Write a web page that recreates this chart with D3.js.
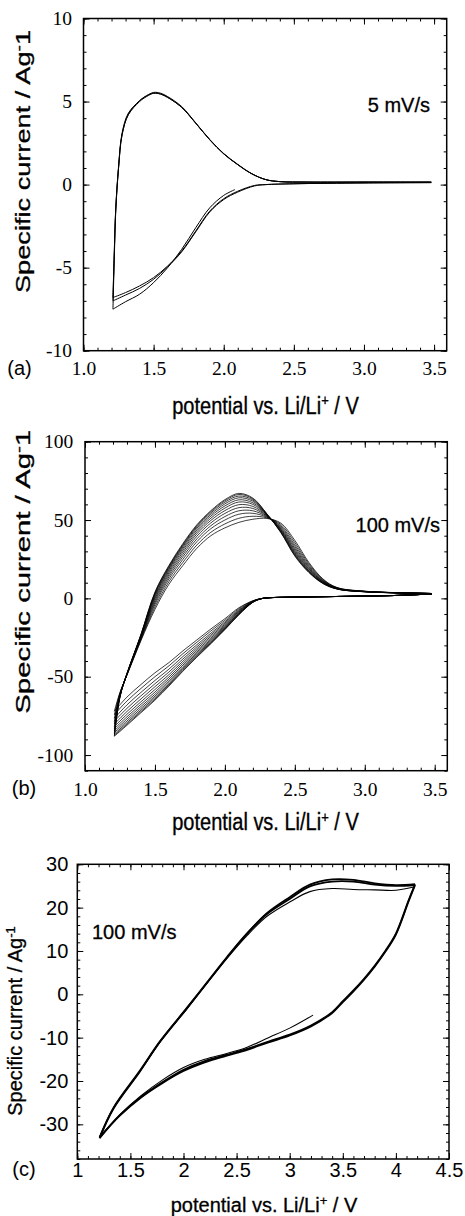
<!DOCTYPE html>
<html>
<head>
<meta charset="utf-8">
<script src="https://cdn.jsdelivr.net/npm/d3@7"></script>
<style>
  body { margin: 0; background: #fff; }
  svg { display: block; }
</style>
</head>
<body>
<div id="chart"></div>
<script>
// ---- panel (a): 5 mV/s, three cycles ----
const aXTicks = [1.0, 1.5, 2.0, 2.5, 3.0, 3.5];
const aYTicks = [-10, -5, 0, 5, 10];
const aAnodicV = [1.21, 1.22, 1.23, 1.25, 1.275, 1.32, 1.40, 1.45, 1.50, 1.55, 1.60, 1.70, 1.80, 1.90, 2.00, 2.10, 2.20, 2.30, 2.40, 2.60, 3.00, 3.48];
const aAnodicI = [
  [-7.5, -4.3, -1.6, 1.0, 3.0, 4.2, 5.0, 5.3, 5.5, 5.45, 5.25, 4.65, 3.7, 2.7, 1.85, 1.2, 0.65, 0.3, 0.18, 0.15, 0.15, 0.15],
  [-7.0, -4.0, -1.5, 1.0, 3.0, 4.25, 5.05, 5.35, 5.5, 5.45, 5.25, 4.65, 3.7, 2.7, 1.85, 1.2, 0.65, 0.3, 0.18, 0.15, 0.15, 0.15],
  [-6.8, -3.9, -1.4, 1.1, 3.1, 4.3, 5.05, 5.35, 5.55, 5.5, 5.3, 4.7, 3.72, 2.72, 1.87, 1.22, 0.66, 0.3, 0.18, 0.15, 0.15, 0.15]
];
const aCathV = [3.48, 3.00, 2.50, 2.30, 2.22, 2.10, 2.00, 1.90, 1.80, 1.70, 1.60, 1.50, 1.40, 1.30, 1.21];
const aCathI = [
  [0.12, 0.1, 0.05, 0.0, -0.05, -0.4, -0.85, -1.6, -2.8, -4.0, -4.9, -5.6, -6.1, -6.5, -6.8],
  [0.12, 0.1, 0.05, 0.0, -0.08, -0.45, -0.9, -1.65, -2.85, -4.05, -4.95, -5.7, -6.25, -6.65, -7.0]
];
const aFirstV = [2.08, 2.00, 1.90, 1.80, 1.70, 1.60, 1.50, 1.40, 1.30, 1.21];
const aFirstI = [-0.3, -0.65, -1.4, -2.6, -3.9, -5.0, -5.9, -6.6, -7.05, -7.5];

// ---- panel (b): 100 mV/s, repeated cycles ----
const bXTicks = [1.0, 1.5, 2.0, 2.5, 3.0, 3.5];
const bYTicks = [-100, -50, 0, 50, 100];
const bAnodicV = [1.21, 1.25, 1.30, 1.40, 1.50, 1.60, 1.70, 1.80, 1.90, 2.00, 2.10, 2.20, 2.30, 2.40, 2.50, 2.60, 2.70, 2.80, 3.00, 3.48];
const bAnodicI = [
  [-88, -63, -48, -23, 4, 21, 35, 47, 56, 63, 67, 64, 54, 42, 27, 16.5, 9.5, 6, 4.2, 3.1],
  [-87.4, -62.9, -48, -23.2, 3.6, 20.5, 34.4, 46.4, 55.4, 62.3, 66.3, 63.5, 53.9, 42.2, 27.4, 16.8, 9.6, 6, 4.2, 3.1],
  [-86.6, -62.7, -48.1, -23.4, 3, 19.9, 33.7, 45.7, 54.6, 61.4, 65.3, 62.8, 53.7, 42.5, 27.9, 17.1, 9.8, 6.1, 4.2, 3.1],
  [-85.6, -62.5, -48.2, -23.6, 2.4, 19.2, 32.9, 44.8, 53.6, 60.3, 64.2, 62, 53.6, 42.9, 28.5, 17.5, 10, 6.2, 4.3, 3.1],
  [-84.5, -62.3, -48.2, -23.9, 1.6, 18.4, 31.9, 43.7, 52.5, 59, 62.9, 61, 53.3, 43.3, 29.2, 17.9, 10.2, 6.2, 4.3, 3.1],
  [-83.2, -62.1, -48.3, -24.2, 0.7, 17.4, 30.8, 42.5, 51.2, 57.6, 61.5, 60, 53.1, 43.8, 30, 18.5, 10.4, 6.3, 4.3, 3.1],
  [-81.8, -61.8, -48.4, -24.6, -0.3, 16.3, 29.5, 41.2, 49.8, 56, 59.8, 58.7, 52.8, 44.3, 30.9, 19, 10.7, 6.4, 4.4, 3.1],
  [-80.2, -61.5, -48.5, -25, -1.4, 15.1, 28.1, 39.7, 48.2, 54.2, 57.9, 57.4, 52.5, 44.9, 31.9, 19.7, 11, 6.5, 4.4, 3.1],
  [-78.4, -61.2, -48.6, -25.4, -2.6, 13.8, 26.6, 38, 46.4, 52.2, 55.9, 55.9, 52.2, 45.6, 33, 20.4, 11.3, 6.6, 4.4, 3.1],
  [-76.5, -60.8, -48.7, -25.9, -3.9, 12.4, 24.9, 36.2, 44.5, 50, 53.7, 54.3, 51.8, 46.3, 34.2, 21.2, 11.7, 6.7, 4.5, 3.1],
  [-74.2, -60.4, -48.9, -26.4, -5.5, 10.7, 23, 34.1, 42.2, 47.5, 51.1, 52.4, 51.4, 47.2, 35.6, 22.1, 12.1, 6.9, 4.5, 3.1],
  [-72, -60, -49, -27, -7, 9, 21, 32, 40, 45, 48.5, 50.5, 51, 48, 37, 23, 12.5, 7, 4.6, 3.1]
];
const bCathV = [3.48, 3.20, 2.80, 2.50, 2.30, 2.25, 2.20, 2.10, 2.00, 1.90, 1.80, 1.70, 1.60, 1.50, 1.40, 1.30, 1.21];
const bCathI = [
  [2.8, 1.8, 1.2, 0.8, 0.3, -0.5, -2.5, -10.5, -20, -29, -37.5, -46.5, -56, -65, -73, -81, -88],
  [2.8, 1.8, 1.2, 0.8, 0.3, -0.5, -2.5, -10.3, -19.7, -28.6, -37.1, -46, -55.4, -64.3, -72.3, -80.3, -87.4],
  [2.8, 1.8, 1.2, 0.8, 0.3, -0.5, -2.4, -10.1, -19.4, -28.1, -36.5, -45.3, -54.7, -63.4, -71.4, -79.4, -86.6],
  [2.8, 1.8, 1.2, 0.8, 0.3, -0.5, -2.4, -9.8, -19, -27.6, -35.9, -44.6, -53.8, -62.4, -70.3, -78.3, -85.6],
  [2.8, 1.8, 1.2, 0.8, 0.3, -0.5, -2.3, -9.5, -18.5, -26.9, -35.1, -43.6, -52.7, -61.2, -69, -77, -84.5],
  [2.8, 1.8, 1.2, 0.8, 0.3, -0.4, -2.2, -9.2, -17.9, -26.2, -34.2, -42.6, -51.5, -59.8, -67.6, -75.6, -83.2],
  [2.8, 1.8, 1.2, 0.8, 0.3, -0.4, -2.1, -8.7, -17.3, -25.3, -33.2, -41.4, -50.2, -58.2, -66, -74, -81.8],
  [2.8, 1.8, 1.2, 0.8, 0.3, -0.4, -2, -8.3, -16.6, -24.3, -32.1, -40.1, -48.7, -56.4, -64.2, -72.2, -80.2],
  [2.8, 1.8, 1.2, 0.8, 0.3, -0.4, -1.9, -7.8, -15.8, -23.3, -30.9, -38.7, -47, -54.5, -62.2, -70.2, -78.4],
  [2.8, 1.8, 1.2, 0.8, 0.3, -0.3, -1.8, -7.3, -15, -22.2, -29.6, -37.1, -45.2, -52.4, -60, -68, -76.5],
  [2.8, 1.8, 1.2, 0.8, 0.3, -0.3, -1.6, -6.6, -14, -20.8, -28, -35.3, -43.1, -50, -57.5, -65.5, -74.2],
  [2.8, 1.8, 1.2, 0.8, 0.3, -0.3, -1.5, -6, -13, -19.5, -26.5, -33.5, -41, -47.5, -55, -63, -72]
];

// ---- panel (c): 100 mV/s, wider window ----
const cXTicks = [1, 1.5, 2, 2.5, 3, 3.5, 4, 4.5];
const cYTicks = [-30, -20, -10, 0, 10, 20, 30];
const cAnodicV = [1.21, 1.34, 1.59, 1.78, 2.03, 2.22, 2.41, 2.60, 2.78, 3.00, 3.19, 3.40, 3.60, 3.80, 4.00, 4.18];
const cAnodicI = [
  [-33.2, -26.4, -17.8, -10.9, -3.3, 2.6, 8.5, 14.0, 18.6, 22.4, 25.3, 26.5, 26.4, 25.6, 25.2, 25.4],
  [-33.0, -26.2, -17.6, -10.8, -3.2, 2.7, 8.6, 14.1, 18.4, 22.0, 24.9, 26.0, 26.0, 25.3, 25.0, 25.2],
  [-33.0, -26.3, -17.8, -11.0, -3.4, 2.5, 8.3, 13.6, 17.9, 21.3, 23.7, 24.4, 24.2, 24.1, 24.0, 24.8]
];
const cAnodicW = [1.8, 1.8, 1.1];
const cCathV = [4.18, 4.12, 4.00, 3.90, 3.80, 3.70, 3.60, 3.50, 3.40, 3.20, 3.00, 2.80, 2.60, 2.40, 2.20, 2.00, 1.80, 1.60, 1.40, 1.21];
const cCathI = [
  [25.4, 21.7, 14.0, 10.0, 6.6, 3.6, 0.9, -1.6, -4.1, -7.2, -9.3, -10.9, -12.6, -14.0, -15.4, -17.4, -20.3, -23.7, -27.9, -33.2],
  [25.2, 21.5, 13.8, 9.8, 6.4, 3.4, 0.7, -1.8, -4.3, -7.4, -9.5, -11.1, -12.8, -14.2, -15.7, -17.7, -20.5, -23.8, -28.0, -33.0]
];
const cFirstV = [3.22, 3.00, 2.80, 2.60, 2.40, 2.20, 2.00, 1.80, 1.60, 1.40, 1.21];
const cFirstI = [-4.8, -7.8, -10.0, -12.2, -13.7, -15.0, -16.9, -19.8, -23.4, -27.8, -33.0];

const SERIF = '"Liberation Serif", "Times New Roman", serif';
const SANS = '"Liberation Sans", Arial, Helvetica, sans-serif';

const svg = d3.select('#chart').append('svg').attr('width', 465).attr('height', 1216);

const zip = (xs, ys) => xs.map((v, i) => [v, ys[i]]);

function drawPanel(p) {
    const x = d3.scaleLinear().domain(p.xDomain).range(p.xRange);
    const y = d3.scaleLinear().domain(p.yDomain).range(p.yRange);
    const g = svg.append('g');
    const line = d3.line().x(d => x(d[0])).y(d => y(d[1])).curve(p.curve);

    p.series.forEach(s => {
        g.append('path').attr('d', line(s.pts)).attr('fill', 'none')
            .attr('stroke', '#000').attr('stroke-width', s.w).attr('stroke-linejoin', 'round');
    });

    const [xl, xr] = p.xRange, [yb, yt] = p.yRange;
    const xMinor = d3.range(p.xDomain[0], p.xDomain[1] - 1e-6, p.xMinorStep);
    const yMinor = d3.range(p.yDomain[0], p.yDomain[1] + 1e-6, p.yMinorStep);

    const styleAxis = ax => {
        ax.select('.domain').remove();
        ax.selectAll('line').attr('stroke', '#000').attr('stroke-width', 1);
        ax.attr('font-family', p.tickFont).attr('font-size', p.tickSize).attr('fill', '#000');
        ax.selectAll('text').attr('fill', '#000');
    };

    // minor ticks, all four sides, pointing inwards
    [[d3.axisBottom(x), xMinor, yb, 'x'], [d3.axisTop(x), xMinor, yt, 'x'],
     [d3.axisLeft(y), yMinor, xl, 'y'], [d3.axisRight(y), yMinor, xr, 'y']].forEach(([axis, vals, pos, dim]) => {
        const ax = g.append('g').attr('transform', dim === 'x' ? `translate(0,${pos})` : `translate(${pos},0)`)
            .call(axis.tickValues(vals).tickSize(-3).tickFormat(''));
        styleAxis(ax);
    });

    // major ticks, labels on bottom/left only
    const bx = g.append('g').attr('transform', `translate(0,${yb})`)
        .call(d3.axisBottom(x).tickValues(p.xTicks).tickSize(-6).tickPadding(p.xPad).tickFormat(p.xFmt));
    styleAxis(bx);
    const ly = g.append('g').attr('transform', `translate(${xl},0)`)
        .call(d3.axisLeft(y).tickValues(p.yTicks).tickSize(-6).tickPadding(p.yPad).tickFormat(d => String(d)));
    styleAxis(ly);
    const tx = g.append('g').attr('transform', `translate(0,${yt})`)
        .call(d3.axisTop(x).tickValues(p.xTicks).tickSize(-6).tickFormat(''));
    styleAxis(tx);
    const ry = g.append('g').attr('transform', `translate(${xr},0)`)
        .call(d3.axisRight(y).tickValues(p.yTicks).tickSize(-6).tickFormat(''));
    styleAxis(ry);

    g.append('rect').attr('x', xl).attr('y', yt).attr('width', xr - xl).attr('height', yb - yt)
        .attr('fill', 'none').attr('stroke', '#000').attr('stroke-width', 1.5);

    // panel letter
    g.append('text').attr('x', p.letter.x).attr('y', p.letter.y).attr('text-anchor', 'middle')
        .attr('font-family', SANS).attr('font-size', 20).text(p.letter.t);

    // scan-rate note
    g.append('text').attr('x', p.rate.x).attr('y', p.rate.y).attr('text-anchor', p.rate.anchor)
        .attr('font-family', SANS).attr('font-size', 20).attr('stroke', '#000').attr('stroke-width', 0.3)
        .text(p.rate.t);

    // x title (glyphs a bit taller in a/b, as in the scan)
    const xt = g.append('text')
        .attr('transform', `translate(${p.xTitle.x},${p.xTitle.y}) scale(1,${p.xTitle.sy})`)
        .attr('text-anchor', 'middle').attr('font-family', SANS).attr('font-size', 20)
        .attr('stroke', '#000').attr('stroke-width', 0.3);
    xt.append('tspan').text('potential vs. Li/Li');
    xt.append('tspan').attr('dy', -7).attr('font-size', 13).text('+');
    xt.append('tspan').attr('dy', 7).text(' / V');

    // y title
    const yt2 = g.append('text').attr('transform', `translate(${p.yTitle.x},${p.yTitle.y}) rotate(-90)`)
        .attr('text-anchor', 'middle').attr('font-family', SANS).attr('font-size', 20)
        .attr('stroke', '#000').attr('stroke-width', 0.3);
    if (p.yTitle.len) yt2.attr('textLength', p.yTitle.len).attr('lengthAdjust', 'spacingAndGlyphs');
    yt2.append('tspan').text('Specific current / Ag');
    if (p.yTitle.supOne) {
        yt2.append('tspan').attr('dy', -7).attr('font-size', 13).text('-1');
    } else {
        yt2.append('tspan').attr('dy', -6).attr('font-size', 14).text('-');
        yt2.append('tspan').attr('dy', 6).attr('font-size', 20).text('1');
    }
}

const catmull = d3.curveCatmullRom.alpha(0.5);

drawPanel({
    xDomain: [1, 3.59], xRange: [83.5, 446.7], yDomain: [-10, 10], yRange: [350.7, 18.5],
    xTicks: aXTicks, yTicks: aYTicks, xMinorStep: 0.1, yMinorStep: 1,
    xFmt: d3.format('.1f'), tickFont: SERIF, tickSize: 19.5, xPad: 10.8, yPad: 11.5,
    curve: catmull,
    series: [
        { pts: zip(aFirstV, aFirstI), w: 1 },
        ...aCathI.map(r => ({ pts: zip(aCathV, r), w: 1 })),
        ...aAnodicI.map(r => ({ pts: zip(aAnodicV, r), w: 1 }))
    ],
    letter: { t: '(a)', x: 19.5, y: 375 },
    rate: { t: '5 mV/s', x: 430, y: 112, anchor: 'end' },
    xTitle: { x: 265.5, y: 413.5, sy: 1.15 },
    yTitle: { x: 29.6, y: 161.5, len: 263 }
});

drawPanel({
    xDomain: [1, 3.59], xRange: [85, 447.3], yDomain: [-110, 100], yRange: [770.7, 441.7],
    xTicks: bXTicks, yTicks: bYTicks, xMinorStep: 0.1, yMinorStep: 10,
    xFmt: d3.format('.1f'), tickFont: SERIF, tickSize: 19.5, xPad: 11, yPad: 11.7,
    curve: catmull,
    series: [
        ...bCathI.map(r => ({ pts: zip(bCathV, r), w: 0.75 })),
        ...bAnodicI.map(r => ({ pts: zip(bAnodicV, r), w: 0.75 }))
    ],
    letter: { t: '(b)', x: 24, y: 795 },
    rate: { t: '100 mV/s', x: 440, y: 531.5, anchor: 'end' },
    xTitle: { x: 265.5, y: 830, sy: 1.15 },
    yTitle: { x: 29.6, y: 571.7, len: 284 }
});

drawPanel({
    xDomain: [1, 4.5], xRange: [77.3, 449], yDomain: [-38, 30], yRange: [1159, 864.3],
    xTicks: cXTicks, yTicks: cYTicks, xMinorStep: 0.1, yMinorStep: 2,
    xFmt: d => String(d), tickFont: SANS, tickSize: 20, xPad: 4, yPad: 9,
    curve: catmull,
    series: [
        { pts: zip(cFirstV, cFirstI), w: 1.1 },
        ...cCathI.map(r => ({ pts: zip(cCathV, r), w: 1.8 })),
        ...cAnodicI.map((r, i) => ({ pts: zip(cAnodicV, r), w: cAnodicW[i] }))
    ],
    letter: { t: '(c)', x: 24, y: 1176 },
    rate: { t: '100 mV/s', x: 92, y: 938.5, anchor: 'start' },
    xTitle: { x: 264, y: 1212, sy: 1 },
    yTitle: { x: 21.6, y: 1021, len: 0, supOne: true }
});
</script>
</body>
</html>
